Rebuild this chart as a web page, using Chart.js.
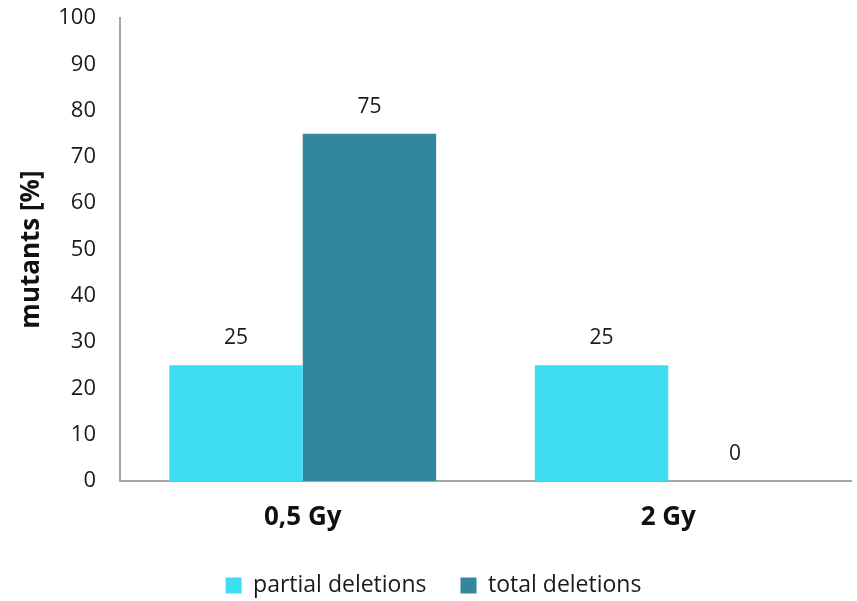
<!DOCTYPE html>
<html>
<head>
<meta charset="utf-8">
<script src="https://cdn.jsdelivr.net/npm/chart.js@4.4.1/dist/chart.umd.min.js"></script>
<style>
  html, body { margin: 0; padding: 0; background: #fff; }
  #wrap { width: 857px; height: 601px; }
</style>
</head>
<body>
<div id="wrap"><canvas id="chart" width="857" height="601"></canvas></div>
<script>
const categories = ['0,5 Gy', '2 Gy'];
const partialDeletions = [25, 25];
const totalDeletions = [75, 0];
const yTicks = [0, 10, 20, 30, 40, 50, 60, 70, 80, 90, 100];

const FONT = "'Open Sans', 'Noto Sans', sans-serif";

// writes the value above each bar
const valueLabels = {
  id: 'valueLabels',
  afterDatasetsDraw(chart) {
    const ctx = chart.ctx;
    ctx.save();
    ctx.font = '21px ' + FONT;
    ctx.fillStyle = '#1a1a1a';
    ctx.textAlign = 'center';
    ctx.textBaseline = 'middle';
    chart.data.datasets.forEach((ds, i) => {
      chart.getDatasetMeta(i).data.forEach((bar, j) => {
        ctx.fillText(String(ds.data[j]), bar.x, bar.y - 27);
      });
    });
    ctx.restore();
  }
};

// nudge the legend row a little lower
const legendNudge = {
  id: 'legendNudge',
  afterUpdate(chart) {
    if (chart.legend) {
      chart.legend.top += 6;
      chart.legend.bottom += 6;
    }
  }
};

new Chart(document.getElementById('chart'), {
  type: 'bar',
  data: {
    labels: categories,
    datasets: [
      {
        label: 'partial deletions',
        data: partialDeletions,
        backgroundColor: '#3DDDF2'
      },
      {
        label: 'total deletions',
        data: totalDeletions,
        backgroundColor: '#32869D'
      }
    ]
  },
  options: {
    responsive: false,
    animation: false,
    layout: { padding: { top: 4, right: 6, left: 16, bottom: 0 } },
    datasets: {
      bar: { categoryPercentage: 0.73, barPercentage: 1.0 }
    },
    plugins: {
      legend: {
        position: 'bottom',
        labels: {
          font: { family: FONT, size: 23 },
          color: '#1a1a1a',
          boxWidth: 16,
          boxHeight: 16,
          padding: 34
        }
      },
      tooltip: { enabled: false }
    },
    scales: {
      x: {
        grid: { display: false, drawTicks: false },
        border: { display: true, color: '#a6a6a6', width: 2 },
        ticks: {
          font: { family: FONT, size: 26, weight: 'bold' },
          color: '#111',
          padding: 21
        },
        afterFit(scale) { scale.height = 53; }
      },
      y: {
        min: 0,
        max: 100,
        afterBuildTicks(scale) {
          scale.ticks = yTicks.map(v => ({ value: v }));
        },
        grid: { display: false, drawTicks: false },
        border: { display: true, color: '#a6a6a6', width: 2 },
        ticks: {
          font: { family: FONT, size: 22 },
          color: '#1a1a1a',
          padding: 24
        },
        title: {
          display: true,
          text: 'mutants [%]',
          font: { family: FONT, size: 26, weight: 'bold' },
          color: '#111',
          padding: { top: 0, bottom: 4 }
        },
        afterFit(scale) {
          scale.width = 104;
          scale.paddingTop = 18;
        }
      }
    }
  },
  plugins: [valueLabels, legendNudge]
});
</script>
</body>
</html>
